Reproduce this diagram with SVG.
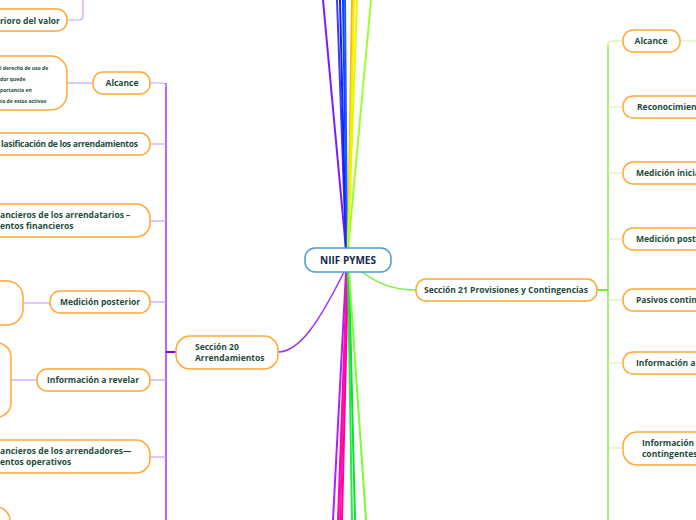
<svg xmlns="http://www.w3.org/2000/svg" width="696" height="520" viewBox="0 0 696 520">
<style>
.n{fill:#fff;stroke:#ffa833;stroke-width:1.5}
.t{font-family:"Open Sans",sans-serif;font-weight:bold;font-size:8.5px;fill:#1d4d3a}
.s{font-family:"Open Sans",sans-serif;font-weight:bold;font-size:5px;fill:#1d4d3a}
.lp{fill:none;stroke:#c9a0ff;stroke-width:1.2}
.lg{fill:none;stroke:#c8f5a0;stroke-width:1.2}
</style>
<g id="connectors" fill="none" stroke-width="2">
<line x1="346" y1="250" x2="323" y2="0" stroke="#7a1cff"/>
<line x1="346" y1="250" x2="337" y2="0" stroke="#3d3dff"/>
<line x1="346" y1="250" x2="340" y2="0" stroke="#1a1aff"/>
<line x1="347" y1="250" x2="343" y2="0" stroke="#0044ff"/>
<line x1="347" y1="250" x2="345" y2="0" stroke="#1a5cff"/>
<line x1="348" y1="250" x2="352" y2="0" stroke="#ffb800"/>
<line x1="348" y1="250" x2="354" y2="0" stroke="#ffe800"/>
<line x1="348" y1="250" x2="357" y2="0" stroke="#d8ff00"/>
<line x1="348" y1="250" x2="371" y2="0" stroke="#99ff33"/>
<line x1="346" y1="272" x2="333" y2="520" stroke="#b020ff"/>
<line x1="347" y1="272" x2="338" y2="520" stroke="#ff00cc"/>
<line x1="347" y1="272" x2="340" y2="520" stroke="#ff1493"/>
<line x1="348" y1="272" x2="342" y2="520" stroke="#ff00aa"/>
<line x1="348" y1="272" x2="352" y2="520" stroke="#22ee44"/>
<line x1="349" y1="272" x2="355" y2="520" stroke="#11dd33"/>
<line x1="349" y1="272" x2="366" y2="520" stroke="#77ff33"/>
<path d="M344,272 C320,320 300,352 278,352" stroke="#9933ff" stroke-width="1.5"/>
<path d="M362,272 C380,285 395,290 416,290" stroke="#77ee33" stroke-width="1.5"/>
<line x1="166" y1="83" x2="166" y2="520" stroke="#9933ff" stroke-width="1.5"/>
<line x1="166" y1="352" x2="176" y2="352" stroke="#8800ee" stroke-width="2"/>
<path class="lp" d="M150,83 H162 Q166,83 166,87"/>
<path class="lp" d="M150,144 H166"/>
<path class="lp" d="M150,221 H166"/>
<path class="lp" d="M150,302 H166"/>
<path class="lp" d="M150,380 H166"/>
<path class="lp" d="M150,457 H166"/>
<path class="lp" d="M67,83 H93"/>
<path class="lp" d="M23,303 H50"/>
<path class="lp" d="M11,380 H37"/>
<path class="lp" d="M67,20 H79 Q83,20 83,16 V0"/>
<line x1="597" y1="290" x2="608" y2="290" stroke="#77ee33" stroke-width="2"/>
<line x1="608" y1="45" x2="608" y2="520" stroke="#88ee44" stroke-width="1.5"/>
<path class="lg" d="M623,41 H612 Q608,41 608,45"/>
<path class="lg" d="M608,107 H623 M608,173 H623 M608,239 H623 M608,300 H623 M608,363 H623 M608,448 H623 M680,41 H696"/>
</g>
<g id="center"><rect x="305" y="248" width="86" height="24" rx="10" fill="#fff" stroke="#4a9ad8" stroke-width="1.5"/><text x="348" y="264" text-anchor="middle" class="t" style="fill:#13294b;font-size:10px">NIIF PYMES</text></g>
<g id="s20"><rect class="n" x="176" y="336" width="102" height="33" rx="14"/><text class="t" x="195" y="350">Sección 20</text><text class="t" x="195" y="361">Arrendamientos</text></g>
<g id="deterioro"><rect class="n" x="-30" y="9" width="97" height="22" rx="10"/><text class="t" x="0" y="24">rioro del valor</text></g>
<g id="alcance-det"><rect class="n" x="-40" y="56" width="107" height="54" rx="16"/><text class="s" x="0" y="70">l derecho de uso de</text><text class="s" x="0" y="81">dor quede</text><text class="s" x="0" y="92">portancia en</text><text class="s" x="0" y="103">to de estos activos</text></g>
<g id="alcance20"><rect class="n" x="93" y="72" width="57" height="22" rx="10"/><text class="t" x="122" y="86" text-anchor="middle">Alcance</text></g>
<g id="clasif"><rect class="n" x="-30" y="133" width="180" height="22" rx="10"/><text class="t" x="1" y="147" textLength="137">lasificación de los arrendamientos</text></g>
<g id="arrendatarios"><rect class="n" x="-30" y="204" width="180" height="33" rx="14"/><text class="t" x="0" y="218">ancieros de los arrendatarios –</text><text class="t" x="0" y="229">entos financieros</text></g>
<g id="medpos-det"><rect class="n" x="-40" y="281" width="63" height="44" rx="16"/></g>
<g id="medpos20"><rect class="n" x="50" y="291" width="100" height="22" rx="10"/><text class="t" x="100" y="305" text-anchor="middle">Medición posterior</text></g>
<g id="info-det"><rect class="n" x="-40" y="343" width="51" height="74" rx="14"/></g>
<g id="info20"><rect class="n" x="37" y="369" width="113" height="22" rx="10"/><text class="t" x="93" y="383" text-anchor="middle">Información a revelar</text></g>
<g id="arrendadores"><rect class="n" x="-30" y="440" width="180" height="33" rx="14"/><text class="t" x="0" y="454">ancieros de los arrendadores—</text><text class="t" x="0" y="465">entos operativos</text></g>
<g id="bottom-left"><rect class="n" x="-40" y="507" width="50" height="40" rx="14"/></g>
<g id="s21"><rect class="n" x="416" y="279" width="181" height="22" rx="10"/><text class="t" x="506" y="293" text-anchor="middle">Sección 21 Provisiones y Contingencias</text></g>
<g id="alcance21"><rect class="n" x="623" y="30" width="57" height="22" rx="10"/><text class="t" x="651" y="44" text-anchor="middle">Alcance</text></g>
<g id="reconoc"><rect class="n" x="623" y="96" width="100" height="22" rx="10"/><text class="t" x="637" y="110">Reconocimiento</text></g>
<g id="medini"><rect class="n" x="623" y="162" width="100" height="22" rx="10"/><text class="t" x="636" y="176">Medición inicial</text></g>
<g id="medpos21"><rect class="n" x="623" y="228" width="100" height="22" rx="10"/><text class="t" x="636" y="242">Medición posterior</text></g>
<g id="pasivos"><rect class="n" x="623" y="289" width="100" height="22" rx="10"/><text class="t" x="636" y="303">Pasivos contingentes</text></g>
<g id="info21"><rect class="n" x="623" y="352" width="100" height="22" rx="10"/><text class="t" x="636" y="366">Información a revelar</text></g>
<g id="info21b"><rect class="n" x="623" y="432" width="100" height="33" rx="14"/><text class="t" x="642" y="446">Información a</text><text class="t" x="642" y="457">contingentes</text></g>
</svg>
